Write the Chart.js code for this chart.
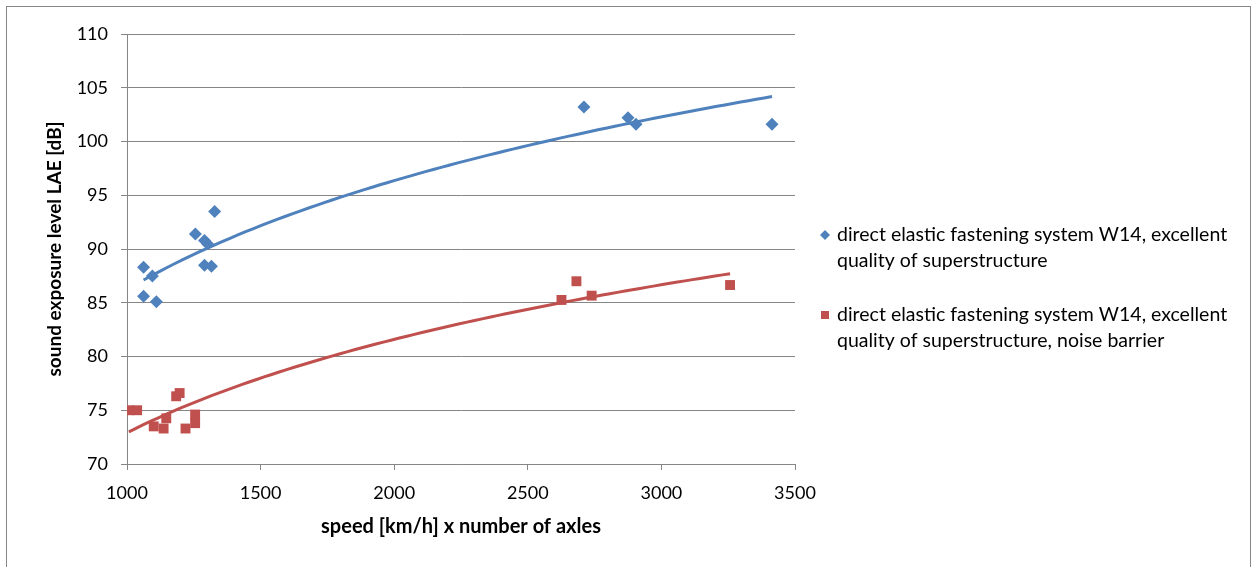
<!DOCTYPE html>
<html>
<head>
<meta charset="utf-8">
<script src="https://cdn.jsdelivr.net/npm/chart.js@4/dist/chart.umd.min.js"></script>
<style>
  html, body { margin: 0; padding: 0; background: #ffffff; }
  #wrap { position: relative; width: 1255px; height: 567px; }
</style>
</head>
<body>
<div id="wrap"><canvas id="chart" width="1255" height="567"></canvas></div>
<script>
// Measured pass-by events: speed [km/h] x number of axles vs. LAE [dB]
const seriesNames = [
  'direct elastic fastening system W14, excellent quality of superstructure',
  'direct elastic fastening system W14, excellent quality of superstructure, noise barrier'
];
const w14X = [1062, 1095, 1062, 1110, 1256, 1290, 1301, 1290, 1316, 1328, 2710, 2875, 2905, 3414];
const w14Y = [88.3, 87.5, 85.6, 85.1, 91.4, 90.8, 90.5, 88.5, 88.4, 93.5, 103.2, 102.2, 101.6, 101.6];
const barrierX = [1007, 1038, 1100, 1137, 1147, 1184, 1197, 1219, 1255, 1255, 2626, 2682, 2739, 3257];
const barrierY = [75.0, 75.0, 73.5, 73.3, 74.25, 76.3, 76.6, 73.3, 74.6, 73.8, 85.26, 87.0, 85.66, 86.65];
const xTicks = [1000, 1500, 2000, 2500, 3000, 3500];
const yTicks = [70, 75, 80, 85, 90, 95, 100, 105, 110];

const BLUE = '#4F81BD';
const RED = '#C0504D';
const GRID = '#868686';
const FONT = 'Lato, "Open Sans", sans-serif';

function toPoints(xs, ys) {
  return xs.map((x, i) => ({ x: x, y: ys[i] }));
}

// Logarithmic least-squares trend (y = a*ln(x) + b) over the measured range
function logTrend(xs, ys, steps) {
  const n = xs.length;
  const lx = xs.map(Math.log);
  const mL = lx.reduce((s, v) => s + v, 0) / n;
  const mY = ys.reduce((s, v) => s + v, 0) / n;
  let sxy = 0, sxx = 0;
  for (let i = 0; i < n; i++) {
    sxy += (lx[i] - mL) * (ys[i] - mY);
    sxx += (lx[i] - mL) * (lx[i] - mL);
  }
  const a = sxy / sxx;
  const b = mY - a * mL;
  const x0 = Math.min(...xs), x1 = Math.max(...xs);
  const pts = [];
  for (let k = 0; k <= steps; k++) {
    const x = x0 + (x1 - x0) * k / steps;
    pts.push({ x: x, y: a * Math.log(x) + b });
  }
  return pts;
}

// Two-line wrapped legend at the right of the plot, plus the outer frame
const sideLegend = {
  id: 'sideLegend',
  afterDraw(chart) {
    const ctx = chart.ctx;
    ctx.save();
    ctx.strokeStyle = GRID;
    ctx.lineWidth = 1;
    ctx.strokeRect(6.5, 6.5, 1244, 620);

    ctx.font = '19.5px ' + FONT;
    ctx.textBaseline = 'middle';
    const entries = [
      { name: seriesNames[0], color: BLUE, shape: 'diamond', y: 235 },
      { name: seriesNames[1], color: RED, shape: 'square', y: 315 }
    ];
    const maxW = 405, lineH = 25.5, textX = 837, markX = 825;
    entries.forEach(e => {
      const words = e.name.split(' ');
      const lines = [];
      let cur = '';
      words.forEach(w => {
        const t = cur ? cur + ' ' + w : w;
        if (ctx.measureText(t).width > maxW && cur) { lines.push(cur); cur = w; }
        else cur = t;
      });
      if (cur) lines.push(cur);
      ctx.fillStyle = e.color;
      ctx.beginPath();
      if (e.shape === 'diamond') {
        ctx.moveTo(markX - 5, e.y); ctx.lineTo(markX, e.y - 5);
        ctx.lineTo(markX + 5, e.y); ctx.lineTo(markX, e.y + 5);
        ctx.closePath();
      } else {
        ctx.rect(markX - 4, e.y - 4, 8, 8);
      }
      ctx.fill();
      ctx.fillStyle = '#000';
      lines.forEach((ln, i) => ctx.fillText(ln, textX, e.y + i * lineH));
    });
    ctx.restore();
  }
};

new Chart(document.getElementById('chart'), {
  type: 'scatter',
  data: {
    datasets: [
      {
        label: 'trend 1', type: 'line', data: logTrend(w14X, w14Y, 80),
        borderColor: BLUE, borderWidth: 3, pointRadius: 0, fill: false, order: 0
      },
      {
        label: 'trend 2', type: 'line', data: logTrend(barrierX, barrierY, 80),
        borderColor: RED, borderWidth: 3, pointRadius: 0, fill: false, order: 0
      },
      {
        label: seriesNames[0], data: toPoints(w14X, w14Y),
        pointStyle: 'rectRot', pointRadius: 6.5, pointHoverRadius: 6.5,
        backgroundColor: BLUE, borderColor: BLUE, borderWidth: 0, order: 1
      },
      {
        label: seriesNames[1], data: toPoints(barrierX, barrierY),
        pointStyle: 'rect', pointRadius: 7, pointHoverRadius: 7,
        backgroundColor: RED, borderColor: RED, borderWidth: 0, order: 1
      }
    ]
  },
  options: {
    responsive: false,
    animation: false,
    events: [],
    layout: { padding: { left: 0, top: 34, right: 460, bottom: 0 } },
    plugins: { legend: { display: false }, tooltip: { enabled: false } },
    scales: {
      x: {
        type: 'linear', min: xTicks[0], max: xTicks[xTicks.length - 1],
        afterBuildTicks: s => { s.ticks = xTicks.map(v => ({ value: v })); },
        afterFit: s => { s.height = 103; },
        grid: { drawOnChartArea: false, drawTicks: true, tickLength: 6, color: GRID, lineWidth: 1 },
        border: { display: true, color: GRID, width: 1 },
        ticks: {
          color: '#000', font: { family: FONT, size: 18 }, padding: 12, maxRotation: 0,
          callback: v => String(v)
        },
        title: {
          display: true, text: 'speed [km/h] x number of axles', color: '#000',
          font: { family: FONT, size: 20, weight: 'bold' }, padding: { top: 0, bottom: 28 }
        }
      },
      y: {
        type: 'linear', min: yTicks[0], max: yTicks[yTicks.length - 1],
        afterBuildTicks: s => { s.ticks = yTicks.map(v => ({ value: v })); },
        afterFit: s => { s.width = 127; },
        grid: { drawTicks: true, tickLength: 6, color: GRID, lineWidth: 1 },
        border: { display: true, color: GRID, width: 1 },
        ticks: {
          color: '#000', font: { family: FONT, size: 18 }, padding: 13,
          callback: v => String(v)
        },
        title: {
          display: true, text: 'sound exposure level LAE [dB]', color: '#000',
          font: { family: FONT, size: 19, weight: 'bold' }, padding: { top: 43, bottom: 0 }
        }
      }
    }
  },
  plugins: [sideLegend]
});
</script>
</body>
</html>
